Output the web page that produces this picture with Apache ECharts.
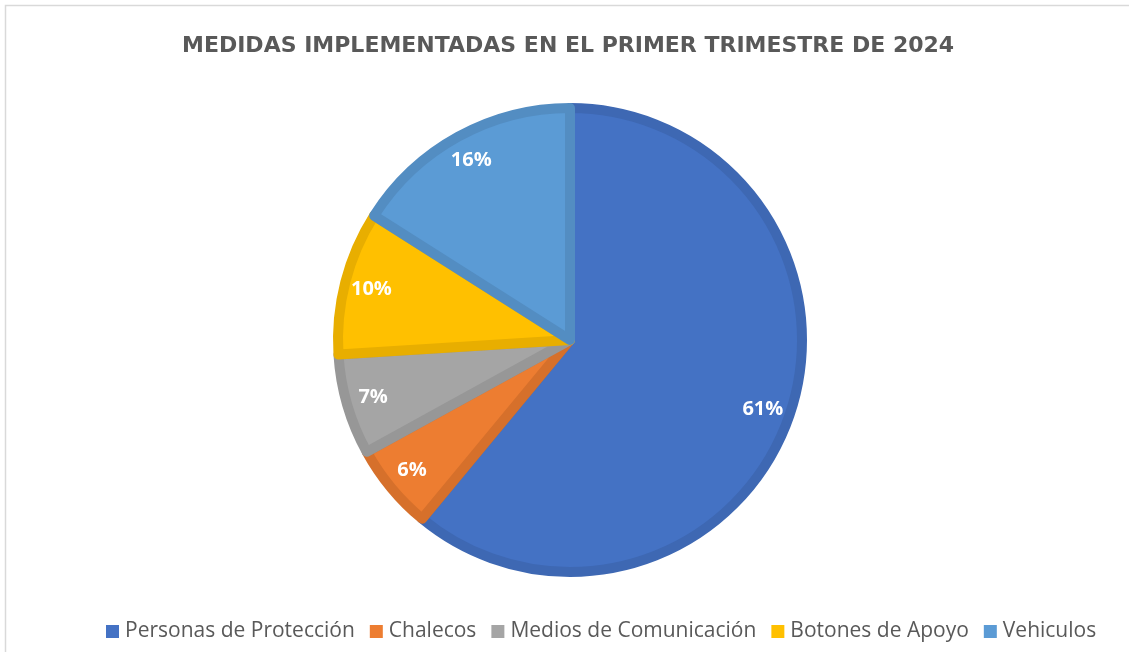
<!DOCTYPE html>
<html>
<head>
<meta charset="utf-8">
<script src="https://cdn.jsdelivr.net/npm/echarts@6/dist/echarts.min.js"></script>
<style>
  html, body { margin: 0; padding: 0; background: #ffffff; }
  #chart { width: 1129px; height: 652px; }
</style>
</head>
<body>
<div id="chart"></div>
<script>
// Measures implemented in Q1 2024 (share of total, %)
const categories = ['Personas de Protección', 'Chalecos', 'Medios de Comunicación', 'Botones de Apoyo', 'Vehiculos'];
const shares = [61, 6, 7, 10, 16];
const fillColors = ['#4472C4', '#ED7D31', '#A5A5A5', '#FFC000', '#5B9BD5'];
const edgeColors = ['#3E68B3', '#D6702B', '#979797', '#E8AE00', '#538DC2'];
const titleText = 'MEDIDAS IMPLEMENTADAS EN EL PRIMER TRIMESTRE DE 2024';

const center = [570, 340];

const sliceData = categories.map((name, i) => ({
  name,
  value: shares[i],
  itemStyle: { color: fillColors[i], borderColor: edgeColors[i] }
}));

const labelData = categories.map((name, i) => ({ name, value: shares[i] }));

const chart = echarts.init(document.getElementById('chart'), null, { renderer: 'canvas' });

chart.setOption({
  backgroundColor: '#ffffff',
  animation: false,
  title: {
    text: titleText,
    left: 177,
    top: 30,
    textStyle: {
      fontFamily: 'DejaVu Sans',
      fontWeight: 'bold',
      fontSize: 22,
      color: '#595959'
    }
  },
  graphic: [{
    type: 'rect',
    shape: { x: 5.5, y: 5.5, width: 1200, height: 700 },
    style: { fill: 'none', stroke: '#d9d9d9', lineWidth: 1.5 },
    silent: true,
    z: -1
  }],
  legend: {
    data: categories,
    bottom: 5,
    left: 101,
    icon: 'rect',
    itemWidth: 13,
    itemHeight: 13,
    itemGap: 15,
    itemStyle: { borderWidth: 0 },
    textStyle: {
      fontFamily: 'Open Sans',
      fontSize: 21,
      color: '#595959',
      padding: [0, 0, 0, 1]
    }
  },
  series: [
    {
      type: 'pie',
      center: center,
      radius: [0, 232],
      startAngle: 90,
      clockwise: true,
      data: sliceData,
      itemStyle: { borderWidth: 10 },
      label: { show: false },
      labelLine: { show: false },
      emphasis: { disabled: true },
      silent: true
    },
    {
      // transparent ring that carries the percentage labels near the rim
      type: 'pie',
      center: center,
      radius: [172, 232],
      startAngle: 90,
      clockwise: true,
      data: labelData,
      itemStyle: { color: 'rgba(0,0,0,0)', borderWidth: 0 },
      label: {
        show: true,
        position: 'inside',
        formatter: '{d}%',
        fontFamily: 'Open Sans',
        fontWeight: 'bold',
        fontSize: 20,
        color: '#ffffff'
      },
      labelLine: { show: false },
      emphasis: { disabled: true },
      silent: true
    }
  ]
});
</script>
</body>
</html>
